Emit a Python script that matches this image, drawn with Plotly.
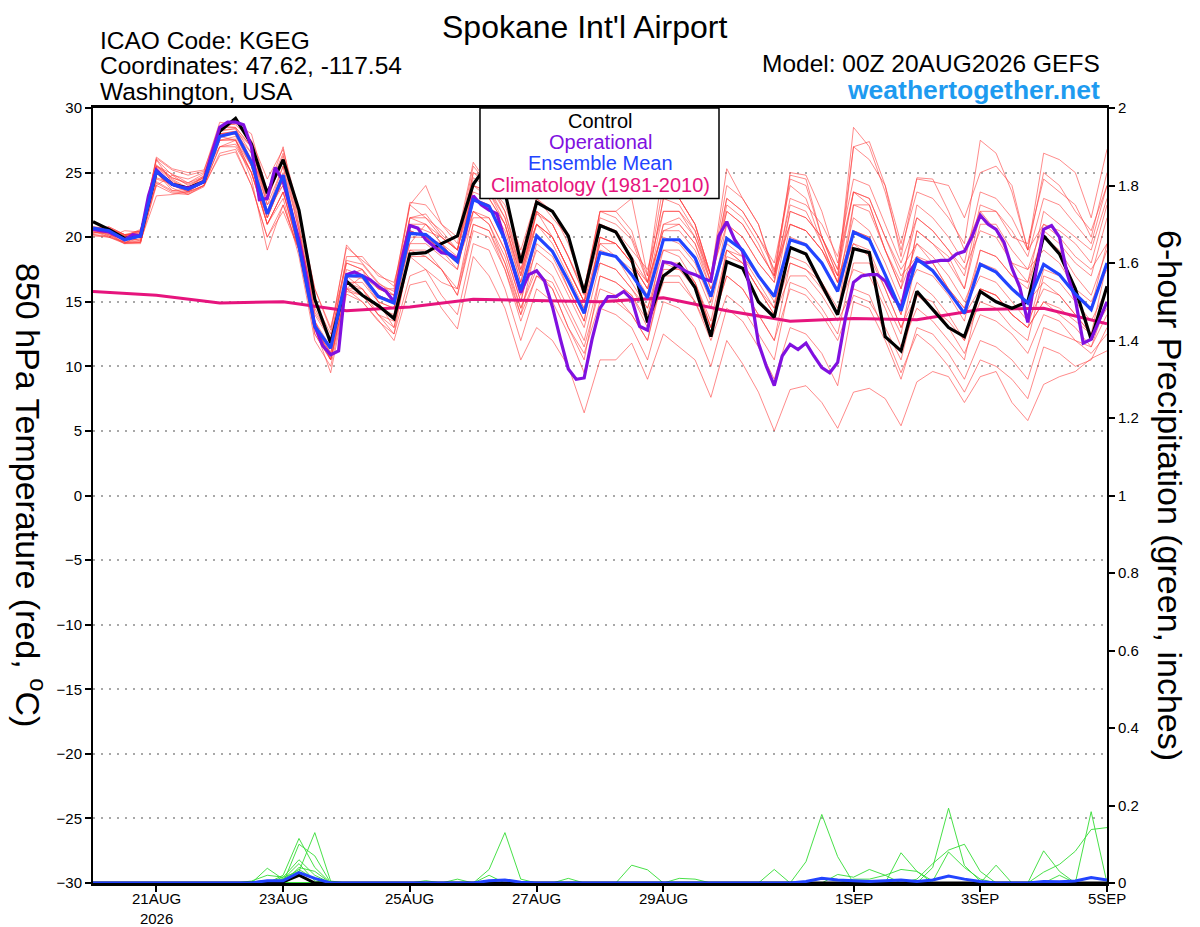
import pandas as pd
import plotly.graph_objects as go

# ---- time axes (GEFS 6-hourly, operational GFS 3-hourly, climatology daily)
t6 = pd.date_range("2026-08-20 00:00", periods=65, freq="6h")
t3 = pd.date_range("2026-08-20 00:00", periods=129, freq="3h")
t24 = pd.date_range("2026-08-20 00:00", periods=17, freq="24h")

tick_dates = ["2026-08-21", "2026-08-23", "2026-08-25", "2026-08-27",
              "2026-08-29", "2026-09-01", "2026-09-03", "2026-09-05"]
tick_text = ["21AUG<br>2026", "23AUG", "25AUG", "27AUG", "29AUG", "1SEP", "3SEP", "5SEP"]

# ---- 850 hPa temperature (C)
control = [21.2, 20.6, 19.9, 20.1, 25.1, 24.1, 23.8, 24.3, 28.2, 29.2, 27.2, 23.4, 26.0, 22.1, 15.2, 11.8, 16.6, 15.5,
           14.7, 13.7, 18.7, 18.8, 19.5, 20.1, 24.1, 25.8, 23.5, 18.0, 22.7, 22.0, 20.1, 15.7, 20.9, 20.4,
           18.3, 13.4, 17.0, 17.9, 16.1, 12.3, 18.1, 17.6, 15.0, 13.8, 19.2, 18.7, 16.3, 14.0, 19.1, 18.8,
           12.3, 11.2, 15.8, 14.4, 13.0, 12.3, 15.8, 15.0, 14.5, 15.0, 20.1, 18.7, 16.0, 12.1, 16.2]

ens_mean = [20.7, 20.5, 19.8, 20.1, 25.1, 24.1, 23.7, 24.3, 27.8, 28.1, 25.8, 21.8, 24.8, 19.3, 13.1, 11.4, 17.0, 17.0,
            15.4, 14.9, 20.3, 20.2, 19.2, 18.1, 22.9, 22.4, 19.8, 15.9, 20.1, 18.9, 16.6, 14.1, 18.8, 18.5,
            17.1, 15.3, 19.8, 19.8, 18.4, 15.4, 19.9, 19.0, 17.0, 15.4, 19.8, 19.4, 18.0, 15.8, 20.4, 19.8,
            17.1, 14.3, 18.3, 17.4, 15.8, 14.1, 17.9, 17.3, 16.0, 14.9, 17.9, 17.1, 15.6, 14.4, 18.0]

operational = [20.6, 20.5, 20.4, 20.1, 19.8, 20.2, 20.1, 23.2, 25.2, 24.6, 24.1, 23.9, 23.8, 24.0, 24.3, 26.5, 28.5,
               28.9, 28.9, 28.7, 27.0, 22.9, 23.0, 25.4, 24.3, 22.1, 19.8, 16.7, 13.1, 11.6, 10.9, 11.2, 17.1, 17.3,
               17.0, 16.7, 16.2, 15.8, 15.0, 18.3, 20.9, 20.7, 19.8, 19.3, 18.8, 18.7, 18.3, 20.3, 23.2, 22.5,
               22.1, 21.8, 19.8, 17.7, 15.7, 17.1, 17.4, 16.6, 14.6, 12.1, 9.8, 9.0, 9.1, 12.1, 14.5, 15.4,
               15.4, 15.8, 15.2, 13.1, 12.8, 15.7, 18.1, 18.0, 17.7, 17.3, 17.1, 16.8, 16.6, 20.1, 21.2, 19.8,
               18.9, 15.7, 11.8, 10.0, 8.5, 10.8, 11.7, 11.3, 11.8, 10.8, 9.9, 9.5, 10.3, 13.8, 16.5, 17.0,
               17.1, 17.1, 16.6, 15.4, 14.5, 17.2, 18.2, 18.0, 18.1, 18.2, 18.2, 18.7, 18.9, 20.1, 21.7, 21.0,
               20.6, 19.6, 17.6, 16.1, 13.4, 17.2, 20.6, 20.9, 20.0, 17.1, 15.2, 11.8, 12.1, 13.5, 15.0]

climatology = [15.8, 15.5, 14.9, 15.0, 14.3, 14.6, 15.2, 15.1, 15.0, 15.3, 14.3, 13.5, 13.7, 13.6, 14.4, 14.5, 13.3]

members = [
    [20.4, 20.3, 19.9, 20.0, 25.6, 24.6, 24.2, 24.9, 28.6, 28.5, 27.0, 22.8, 26.3, 20.8, 14.2, 12.2,
     18.2, 17.9, 16.4, 15.8, 21.5, 21.8, 20.2, 19.0, 24.6, 23.8, 21.5, 17.2, 21.8, 21.0, 18.5, 15.6,
     21.5, 21.0, 19.8, 16.5, 23.0, 22.5, 20.5, 16.5, 22.5, 21.5, 19.5, 16.8, 24.5, 24.0, 20.0, 17.0,
     28.5, 27.0, 23.5, 19.0, 23.5, 23.0, 21.5, 19.5, 27.5, 26.5, 23.5, 19.0, 26.5, 26.0, 25.0, 21.5, 26.8],
    [20.1, 20.0, 19.5, 19.6, 24.0, 23.4, 23.3, 23.9, 26.5, 26.8, 24.0, 20.0, 22.5, 19.0, 13.0, 9.5,
     15.6, 15.0, 13.6, 12.0, 16.3, 16.6, 14.5, 12.9, 18.5, 17.0, 14.5, 10.5, 13.0, 12.0, 10.0, 6.4,
     10.5, 10.5, 11.8, 9.0, 12.5, 11.5, 10.5, 7.6, 12.0, 10.2, 8.0, 5.0, 8.2, 8.5, 7.2, 5.2,
     8.0, 8.3, 7.5, 5.4, 8.8, 9.6, 9.2, 7.2, 9.2, 9.6, 7.2, 5.8, 8.6, 9.2, 9.6, 10.6, 11.2],
    [20.8, 20.7, 20.1, 20.4, 26.1, 25.2, 24.8, 25.1, 28.9, 28.7, 27.5, 24.5, 26.8, 22.0, 16.0, 12.8,
     19.2, 18.2, 17.2, 16.2, 22.5, 24.0, 21.0, 19.5, 25.5, 24.0, 23.5, 18.5, 23.0, 21.5, 20.0, 16.0,
     22.0, 22.0, 23.0, 17.0, 25.5, 23.0, 21.0, 17.0, 25.3, 23.0, 21.0, 17.3, 24.8, 24.5, 20.0, 17.5,
     27.0, 26.0, 24.0, 19.5, 24.5, 24.3, 24.0, 21.5, 25.0, 25.5, 24.0, 19.0, 25.0, 24.0, 22.0, 20.5, 24.0],
    [20.2, 20.1, 19.6, 19.7, 24.3, 23.6, 23.5, 24.0, 27.0, 27.2, 25.0, 21.0, 23.5, 19.2, 13.2, 10.5,
     16.0, 15.5, 14.0, 12.5, 17.0, 17.5, 15.5, 14.0, 19.5, 19.0, 16.0, 12.0, 16.0, 15.0, 12.5, 9.5,
     14.5, 14.0, 13.0, 10.5, 15.0, 14.5, 13.0, 10.0, 14.5, 13.5, 11.5, 9.0, 13.0, 12.5, 11.0, 8.5,
     15.0, 14.5, 12.0, 9.0, 13.0, 12.5, 11.0, 9.0, 12.0, 11.5, 10.5, 9.0, 13.0, 12.5, 12.0, 11.0, 12.5],
    [20.6, 20.6, 20.2, 20.3, 26.0, 24.8, 24.0, 24.6, 28.2, 28.4, 26.5, 22.5, 25.5, 20.5, 14.5, 12.0,
     18.5, 18.5, 17.0, 16.5, 21.0, 20.5, 20.0, 19.0, 23.5, 23.0, 21.0, 17.0, 22.0, 20.0, 17.5, 15.0,
     19.5, 19.5, 18.0, 16.0, 21.0, 21.5, 20.0, 16.5, 22.0, 21.0, 19.0, 17.0, 22.5, 22.0, 19.5, 16.5,
     27.0, 27.4, 24.0, 18.5, 24.6, 24.5, 22.0, 19.0, 22.0, 20.5, 18.0, 16.5, 20.0, 19.0, 17.0, 15.5, 19.0],
    [20.4, 20.2, 19.8, 19.8, 25.0, 24.3, 23.8, 24.5, 27.8, 28.0, 25.5, 21.5, 24.5, 19.5, 13.0, 11.0,
     17.0, 16.8, 15.0, 14.5, 21.0, 21.0, 19.5, 18.5, 22.0, 21.0, 18.5, 14.5, 18.0, 17.0, 14.5, 12.0,
     17.0, 16.5, 15.5, 13.5, 20.0, 19.5, 18.0, 15.0, 21.0, 20.0, 18.0, 16.5, 22.0, 21.5, 20.0, 17.0,
     19.5, 18.5, 16.0, 13.0, 15.5, 15.0, 13.0, 11.0, 14.0, 13.5, 12.5, 11.0, 14.0, 13.5, 12.0, 11.5, 15.0],
    [20.7, 20.8, 20.2, 20.1, 26.2, 25.3, 25.0, 25.2, 28.5, 28.8, 28.0, 23.5, 27.0, 21.0, 15.0, 12.5,
     19.4, 18.0, 16.5, 15.5, 22.5, 21.5, 20.5, 19.0, 25.0, 24.5, 22.0, 17.5, 21.0, 19.5, 17.0, 14.5,
     19.5, 18.5, 16.5, 14.5, 19.0, 18.5, 16.5, 13.0, 17.0, 16.0, 14.0, 12.0, 16.0, 15.5, 14.0, 12.0,
     15.5, 15.0, 13.0, 10.5, 15.5, 14.5, 13.5, 12.0, 16.0, 15.5, 14.0, 13.0, 15.0, 14.0, 13.0, 11.5, 14.0],
    [20.5, 20.0, 19.6, 19.6, 24.2, 23.5, 23.4, 24.0, 27.0, 27.0, 25.0, 21.0, 23.5, 19.0, 13.5, 10.5,
     16.0, 16.0, 14.5, 14.0, 20.0, 20.0, 19.5, 18.0, 24.0, 23.5, 21.0, 17.0, 21.0, 20.0, 17.5, 15.0,
     22.0, 21.5, 20.0, 17.0, 24.0, 23.0, 21.0, 17.0, 23.0, 22.0, 20.0, 17.5, 21.0, 20.5, 19.0, 16.5,
     20.5, 20.0, 17.0, 14.0, 20.5, 19.5, 18.0, 16.0, 22.0, 22.0, 20.5, 18.5, 23.0, 22.5, 21.0, 19.5, 24.0],
    [20.3, 20.4, 20.1, 20.5, 25.5, 24.5, 23.8, 24.8, 28.5, 28.5, 27.0, 23.0, 26.0, 20.5, 14.0, 12.0,
     18.0, 17.5, 15.0, 13.0, 19.0, 18.5, 17.5, 16.0, 21.0, 20.5, 18.0, 14.0, 19.5, 18.5, 16.0, 13.5,
     20.0, 19.5, 18.0, 16.5, 23.0, 23.0, 21.0, 17.0, 24.0, 23.0, 21.0, 17.0, 25.0, 24.8, 22.0, 18.0,
     23.5, 22.5, 19.0, 16.0, 19.5, 18.0, 16.0, 14.5, 17.0, 16.5, 15.0, 13.5, 16.0, 15.5, 14.0, 12.5, 18.0],
    [20.6, 20.3, 19.5, 20.3, 25.0, 24.0, 23.5, 24.3, 27.5, 27.8, 25.5, 21.5, 24.5, 19.5, 13.0, 11.5,
     17.0, 17.0, 15.5, 15.0, 20.5, 20.0, 19.0, 17.5, 23.0, 22.5, 20.0, 15.5, 19.0, 18.0, 15.5, 13.0,
     18.0, 17.5, 16.0, 14.5, 18.0, 17.5, 16.5, 13.5, 19.0, 18.0, 16.0, 14.5, 20.0, 19.5, 18.0, 16.0,
     22.5, 22.0, 19.0, 16.5, 21.5, 20.5, 19.0, 17.0, 22.5, 22.0, 20.0, 19.5, 24.5, 23.5, 22.5, 20.0, 25.0],
    [20.6, 20.6, 19.6, 19.9, 24.6, 24.2, 23.6, 24.2, 28.0, 28.2, 26.0, 22.0, 24.0, 19.0, 12.5, 10.5,
     16.5, 16.5, 15.0, 14.5, 21.5, 21.0, 20.0, 19.0, 24.0, 23.5, 21.5, 17.5, 22.0, 21.0, 18.5, 16.0,
     21.0, 20.5, 18.5, 16.5, 20.5, 20.5, 19.0, 16.0, 19.5, 18.5, 17.0, 15.0, 18.5, 18.0, 16.5, 14.5,
     17.5, 17.0, 14.5, 11.5, 14.5, 13.5, 12.0, 10.5, 16.0, 15.5, 14.0, 13.0, 17.5, 17.0, 15.5, 14.5, 19.5],
    [20.2, 20.0, 20.5, 20.4, 25.5, 24.6, 24.1, 24.6, 27.5, 27.6, 25.0, 21.0, 23.0, 18.5, 12.0, 10.0,
     15.8, 15.5, 14.0, 13.5, 18.5, 18.5, 17.5, 15.5, 20.5, 20.0, 17.5, 13.5, 17.0, 16.5, 14.0, 11.5,
     16.0, 15.5, 14.0, 12.0, 17.5, 17.5, 16.0, 13.0, 18.5, 18.0, 16.0, 14.0, 17.0, 17.0, 15.5, 13.5,
     16.0, 15.5, 12.5, 9.5, 12.5, 11.5, 10.0, 8.0, 10.5, 10.0, 9.0, 7.5, 11.5, 11.0, 10.0, 10.5, 13.0],
    [20.7, 20.5, 20.0, 19.7, 23.2, 23.3, 23.5, 24.0, 26.3, 26.6, 24.0, 20.0, 22.0, 19.0, 13.0, 11.5,
     16.5, 16.0, 14.5, 14.5, 19.5, 19.5, 18.5, 17.5, 23.0, 22.5, 20.5, 16.5, 21.0, 20.0, 17.5, 15.0,
     21.0, 20.5, 19.0, 17.5, 22.0, 22.0, 20.0, 17.0, 21.0, 20.0, 18.0, 16.5, 23.0, 22.5, 21.0, 18.5,
     24.5, 24.0, 21.0, 18.0, 21.5, 20.5, 19.0, 17.5, 20.5, 20.0, 18.0, 17.5, 21.0, 20.0, 18.5, 17.5, 19.5],
    [20.5, 20.7, 20.2, 20.5, 25.4, 24.4, 23.7, 24.7, 28.3, 28.4, 26.0, 23.5, 26.5, 21.5, 16.0, 13.0,
     18.0, 17.5, 16.0, 16.0, 22.7, 22.5, 21.0, 20.0, 25.8, 24.0, 22.5, 19.0, 23.0, 22.0, 19.5, 16.0,
     22.0, 22.0, 20.5, 16.5, 20.5, 21.0, 19.5, 16.0, 19.0, 18.0, 16.0, 14.0, 18.0, 17.5, 16.5, 14.0,
     20.5, 20.0, 17.0, 14.0, 20.5, 19.5, 18.5, 16.0, 21.0, 21.0, 19.0, 17.5, 19.0, 18.0, 16.0, 15.0, 17.5],
    [20.6, 20.2, 19.6, 19.6, 25.0, 23.8, 23.3, 24.0, 27.5, 27.5, 24.5, 19.0, 22.5, 19.0, 13.0, 10.5,
     16.0, 15.0, 13.5, 12.5, 19.0, 19.0, 17.5, 15.5, 21.0, 20.5, 17.5, 14.0, 17.0, 16.0, 13.0, 10.5,
     17.0, 16.5, 15.5, 13.0, 16.5, 16.5, 15.0, 12.0, 15.5, 14.5, 12.5, 10.5, 16.5, 16.0, 14.5, 12.5,
     18.0, 18.0, 15.0, 12.5, 18.5, 18.0, 16.0, 14.5, 19.0, 18.5, 17.0, 16.0, 20.5, 19.5, 18.0, 17.0, 21.5],
    [20.8, 20.6, 20.0, 20.1, 26.0, 24.2, 23.5, 24.5, 28.0, 28.0, 26.5, 22.0, 25.5, 19.5, 13.5, 11.0,
     17.0, 17.0, 15.5, 15.0, 20.5, 20.0, 19.0, 18.0, 21.5, 21.5, 19.0, 15.0, 20.0, 19.0, 16.0, 13.5,
     20.0, 19.5, 18.0, 16.0, 22.0, 22.0, 20.5, 17.0, 22.0, 21.0, 19.0, 17.0, 21.0, 20.5, 19.0, 16.5,
     19.5, 19.0, 16.0, 13.0, 16.5, 15.5, 14.0, 12.0, 15.0, 14.5, 13.0, 12.0, 17.0, 16.5, 15.0, 13.5, 16.0],
    [20.5, 20.5, 20.0, 20.5, 24.0, 24.8, 24.5, 25.0, 27.0, 27.5, 25.0, 21.5, 24.5, 20.0, 15.0, 12.0,
     16.0, 17.0, 16.0, 15.5, 21.5, 21.5, 20.0, 19.0, 25.0, 24.0, 22.0, 18.0, 21.0, 20.0, 17.5, 15.0,
     18.0, 17.5, 16.0, 14.0, 18.0, 18.0, 16.5, 13.0, 17.0, 16.0, 14.0, 12.0, 18.0, 17.5, 16.0, 14.0,
     22.5, 22.5, 19.0, 16.0, 22.5, 21.5, 20.0, 18.0, 23.5, 23.0, 21.5, 19.0, 21.0, 20.5, 19.5, 18.0, 22.5],
    [20.3, 20.8, 20.2, 20.1, 25.5, 24.9, 24.2, 24.7, 28.0, 28.2, 27.0, 22.5, 24.0, 19.5, 13.0, 11.0,
     17.0, 17.5, 16.0, 15.5, 19.5, 21.0, 19.5, 18.0, 22.0, 21.0, 18.0, 14.5, 17.5, 16.0, 13.0, 11.0,
     15.0, 15.0, 14.0, 12.0, 17.0, 17.0, 15.0, 12.5, 19.0, 18.5, 16.5, 14.5, 21.0, 20.5, 19.0, 17.0,
     23.5, 23.0, 20.0, 17.5, 19.5, 18.5, 17.0, 15.0, 18.0, 17.5, 16.0, 15.0, 16.5, 15.5, 14.0, 12.5, 15.0],
    [20.6, 20.1, 19.5, 19.5, 25.0, 23.6, 23.7, 24.2, 27.8, 27.5, 25.5, 21.0, 23.5, 19.0, 12.5, 10.5,
     17.0, 16.0, 14.0, 13.0, 18.5, 17.5, 16.5, 16.0, 22.0, 21.5, 19.0, 15.0, 20.0, 19.0, 16.5, 14.5,
     19.0, 18.5, 17.5, 15.5, 21.0, 21.0, 19.5, 16.5, 23.0, 22.0, 20.0, 18.0, 24.0, 23.0, 19.5, 16.5,
     21.5, 20.5, 18.0, 15.0, 17.5, 17.0, 15.5, 13.5, 19.0, 18.5, 17.0, 16.5, 22.0, 21.0, 20.0, 19.0, 23.0],
    [20.5, 20.7, 20.1, 20.6, 24.5, 24.1, 23.6, 24.4, 28.0, 28.0, 26.0, 22.0, 25.0, 19.5, 13.5, 11.5,
     17.5, 17.0, 15.5, 15.0, 20.5, 20.0, 19.0, 18.0, 24.0, 23.0, 21.0, 16.5, 22.0, 21.0, 18.5, 15.5,
     20.0, 19.5, 18.0, 16.0, 19.0, 19.0, 17.5, 14.5, 20.0, 19.0, 17.0, 15.5, 22.0, 21.5, 20.0, 17.5,
     23.5, 23.0, 20.0, 17.0, 18.5, 17.5, 16.0, 14.0, 16.0, 15.5, 14.0, 13.0, 15.0, 14.5, 13.5, 12.5, 14.5],
]

# ---- 6-hour precipitation (inches), non-zero steps only (index -> value)
precip_members = [
    {11: 0.038, 12: 0.01, 13: 0.05, 14: 0.005},
    {12: 0.02, 13: 0.115, 14: 0.04},
    {12: 0.015, 13: 0.03, 14: 0.13, 15: 0.005, 25: 0.035, 26: 0.13, 27: 0.01},
    {13: 0.1, 14: 0.07},
    {10: 0.005, 11: 0.02, 12: 0.015, 13: 0.06, 14: 0.02, 23: 0.01, 34: 0.046, 35: 0.034},
    {13: 0.04, 14: 0.03, 25: 0.02, 30: 0.012, 37: 0.012, 38: 0.01, 43: 0.035, 45: 0.055, 46: 0.177, 47: 0.068},
    {13: 0.02, 21: 0.006, 47: 0.022, 48: 0.015, 49: 0.035, 50: 0.02, 51: 0.035, 52: 0.03},
    {51: 0.078, 52: 0.03, 53: 0.005, 54: 0.08, 55: 0.04, 56: 0.01},
    {53: 0.04, 54: 0.193, 55: 0.045, 56: 0.005},
    {52: 0.01, 53: 0.05, 54: 0.085, 55: 0.1, 56: 0.03},
    {57: 0.046, 60: 0.083, 61: 0.03},
    {60: 0.028, 61: 0.048, 62: 0.082, 63: 0.138, 64: 0.143},
    {61: 0.02, 63: 0.184},
    {12: 0.01, 13: 0.035, 14: 0.01, 48: 0.01, 49: 0.01, 50: 0.02},
]
precip_mean = {11: 0.006, 12: 0.006, 13: 0.027, 14: 0.012, 25: 0.006, 26: 0.008, 27: 0.002,
               45: 0.004, 46: 0.012, 47: 0.008, 48: 0.006, 49: 0.004, 50: 0.006, 51: 0.008, 52: 0.004,
               53: 0.008, 54: 0.018, 55: 0.01, 56: 0.004, 60: 0.004, 61: 0.003, 62: 0.005, 63: 0.014, 64: 0.008}
precip_control = {11: 0.004, 12: 0.003, 13: 0.02}


def expand(d):
    return [d.get(i, 0.0) for i in range(len(t6))]


# page pixel -> paper helpers (plot area 93..1107 x 108..883 on the page;
# the page body adds an 8px offset, so the figure itself is 1192x919)
L, R, T, B = 93, 1107, 108, 883
OFF = 8


def px(x):
    return (x - L) / (R - L)


def py(y):
    return (B - y) / (B - T)


FONT = "Liberation Sans, Arial, sans-serif"
PURPLE = "#8010e0"
BLUE = "#2244ff"
CLIM = "#e6147d"

fig = go.Figure()

for m in members:
    fig.add_trace(go.Scatter(x=t6, y=m, mode="lines",
                             line=dict(color="rgba(255,60,60,0.75)", width=0.8)))

for p in precip_members:
    fig.add_trace(go.Scatter(x=t6, y=expand(p), mode="lines", yaxis="y2",
                             line=dict(color="#33dd33", width=0.9)))
fig.add_trace(go.Scatter(x=t6, y=expand(precip_control), mode="lines", yaxis="y2",
                         line=dict(color="black", width=3)))
fig.add_trace(go.Scatter(x=t6, y=expand(precip_mean), mode="lines", yaxis="y2",
                         line=dict(color=BLUE, width=3)))

fig.add_trace(go.Scatter(x=t24, y=climatology, mode="lines", line=dict(color=CLIM, width=3)))
fig.add_trace(go.Scatter(x=t6, y=control, mode="lines", line=dict(color="black", width=3.2)))
fig.add_trace(go.Scatter(x=t3, y=operational, mode="lines", line=dict(color=PURPLE, width=3.2)))
fig.add_trace(go.Scatter(x=t6, y=ens_mean, mode="lines", line=dict(color=BLUE, width=3.2)))

W, H = 1200 - OFF, 927 - OFF
fig.update_layout(
    width=W, height=H,
    margin=dict(l=L - OFF, r=W - (R - OFF), t=T - OFF, b=H - (B - OFF)),
    paper_bgcolor="white", plot_bgcolor="white",
    showlegend=False,
    font=dict(family=FONT, color="black"),
    xaxis=dict(
        type="date", range=["2026-08-20 00:00", "2026-09-05 00:00"],
        tickvals=tick_dates, showticklabels=False,
        ticks="outside", ticklen=6, tickwidth=1.5, tickcolor="black",
        automargin=False,
        showline=True, linewidth=3, linecolor="black", mirror=True,
        showgrid=False, zeroline=False,
    ),
    yaxis=dict(
        range=[-30, 30], tickvals=list(range(-30, 31, 5)),
        ticks="outside", ticklen=6, tickwidth=1.5, tickcolor="black",
        tickfont=dict(size=15), automargin=False,
        showline=True, linewidth=2, linecolor="black",
        showgrid=True, gridcolor="#a8a8a8", gridwidth=1.5, griddash="2px,6px",
        zeroline=False,
    ),
    yaxis2=dict(
        range=[0, 2], dtick=0.2, overlaying="y", side="right",
        ticks="outside", ticklen=6, tickwidth=1.5, tickcolor="black",
        tickfont=dict(size=15), automargin=False,
        showline=True, linewidth=2, linecolor="black",
        showgrid=False, zeroline=False,
    ),
)

# x tick labels (placed a bit closer to the axis than plotly's default)
for d, txt in zip(tick_dates, tick_text):
    fig.add_annotation(text=txt, xref="x", yref="paper", x=d, y=py(888),
                       xanchor="center", yanchor="top", showarrow=False,
                       font=dict(size=15, family=FONT))

# legend box
fig.add_shape(type="rect", xref="paper", yref="paper",
              x0=px(480), x1=px(719), y0=py(198.5), y1=py(108),
              fillcolor="white", line=dict(color="black", width=1.5), layer="above")

legend_items = [("Control", "black", 121), ("Operational", PURPLE, 142),
                ("Ensemble Mean", BLUE, 163), ("Climatology (1981-2010)", CLIM, 185)]
for txt, col, yy in legend_items:
    fig.add_annotation(text=txt, xref="paper", yref="paper", x=px(600), y=py(yy),
                       xanchor="center", yanchor="middle", showarrow=False,
                       font=dict(size=20, color=col, family=FONT))

# header texts
fig.add_annotation(text="Spokane Int'l Airport", xref="paper", yref="paper",
                   x=px(585), y=py(8.5), xanchor="center", yanchor="top", borderpad=0,
                   showarrow=False, font=dict(size=32, family=FONT))
for txt, yy in [("ICAO Code: KGEG", 40), ("Coordinates: 47.62, -117.54", 66), ("Washington, USA", 92)]:
    fig.add_annotation(text=txt, xref="paper", yref="paper", x=px(98), y=py(yy),
                       xanchor="left", yanchor="middle", showarrow=False,
                       font=dict(size=24.5, family=FONT))
fig.add_annotation(text="Model: 00Z 20AUG2026 GEFS", xref="paper", yref="paper",
                   x=px(1102), y=py(64), xanchor="right", yanchor="middle",
                   showarrow=False, font=dict(size=24.5, family=FONT))
fig.add_annotation(text="<b>weathertogether.net</b>", xref="paper", yref="paper",
                   x=px(1102), y=py(90), xanchor="right", yanchor="middle",
                   showarrow=False, font=dict(size=26.5, color="#1e9bf0", family=FONT))

# axis titles
fig.add_annotation(text="850 hPa Temperature (red, <sup>o</sup>C)", xref="paper", yref="paper",
                   x=px(31), y=py(495), xanchor="center", yanchor="middle", textangle=90,
                   showarrow=False, font=dict(size=34, family=FONT))
fig.add_annotation(text="6-hour Precipitation (green, inches)", xref="paper", yref="paper",
                   x=px(1170), y=py(495), xanchor="center", yanchor="middle", textangle=90,
                   showarrow=False, font=dict(size=34, family=FONT))

fig.write_html("out.html")
